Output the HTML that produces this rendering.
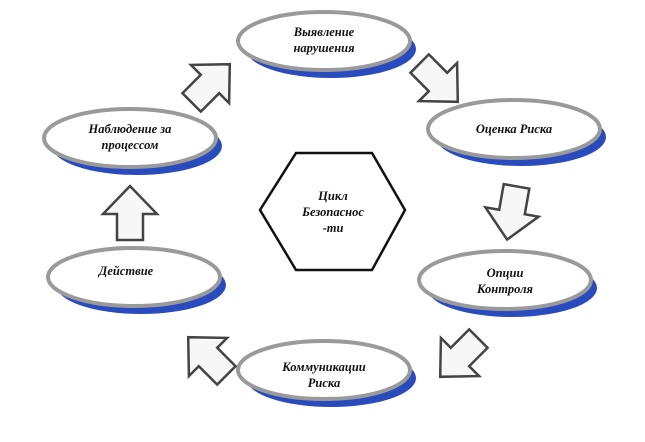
<!DOCTYPE html>
<html><head><meta charset="utf-8"><style>
html,body{margin:0;padding:0;background:#fff;width:645px;height:442px;overflow:hidden}
text{font-family:"Liberation Serif","DejaVu Serif",serif;font-style:italic;font-weight:bold;font-size:12.5px;fill:#111}
</style></head><body>
<svg width="645" height="442" viewBox="0 0 645 442" xmlns="http://www.w3.org/2000/svg">
<defs>
<g id="ar"><path d="M-13,-26 L13,-26 L13,0 L27,0 L0,28 L-27,0 L-13,0 Z" fill="#f7f7f7" stroke="#444" stroke-width="2.5" stroke-linejoin="miter"/></g>
<g id="el">
<ellipse cx="7" cy="8" rx="85" ry="29" fill="#2a4bbd"/>
<ellipse cx="0" cy="0" rx="86" ry="29" fill="#fff" stroke="#9a9a9a" stroke-width="4"/>
</g>
</defs>
<use href="#el" x="324" y="41"/>
<use href="#el" x="514" y="129"/>
<use href="#el" x="505" y="280"/>
<use href="#el" x="324" y="370"/>
<use href="#el" x="134" y="277"/>
<use href="#el" x="130" y="138"/>
<polygon points="260,210 296,153 372,153 405,210 372,270 296,270" fill="#fff" stroke="#111" stroke-width="2.5"/>
<use href="#ar" transform="translate(512,212) rotate(10)"/>
<use href="#ar" transform="translate(438,82) rotate(-45)"/>
<use href="#ar" transform="translate(460,357) rotate(45)"/>
<use href="#ar" transform="translate(208,357) rotate(135)"/>
<use href="#ar" transform="translate(130,214) rotate(180)"/>
<use href="#ar" transform="translate(210,84) rotate(-135)"/>
<text x="324" y="36" text-anchor="middle">Выявление</text>
<text x="324" y="52" text-anchor="middle">нарушения</text>
<text x="514" y="133" text-anchor="middle">Оценка Риска</text>
<text x="505" y="277" text-anchor="middle">Опции</text>
<text x="505" y="293" text-anchor="middle">Контроля</text>
<text x="324" y="371" text-anchor="middle">Коммуникации</text>
<text x="324" y="387" text-anchor="middle">Риска</text>
<text x="126" y="275" text-anchor="middle">Действие</text>
<text x="130" y="133" text-anchor="middle">Наблюдение за</text>
<text x="130" y="149" text-anchor="middle">процессом</text>
<text x="333" y="200" text-anchor="middle">Цикл</text>
<text x="333" y="216" text-anchor="middle">Безопаснос</text>
<text x="333" y="232" text-anchor="middle">-ти</text>
</svg>
</body></html>
